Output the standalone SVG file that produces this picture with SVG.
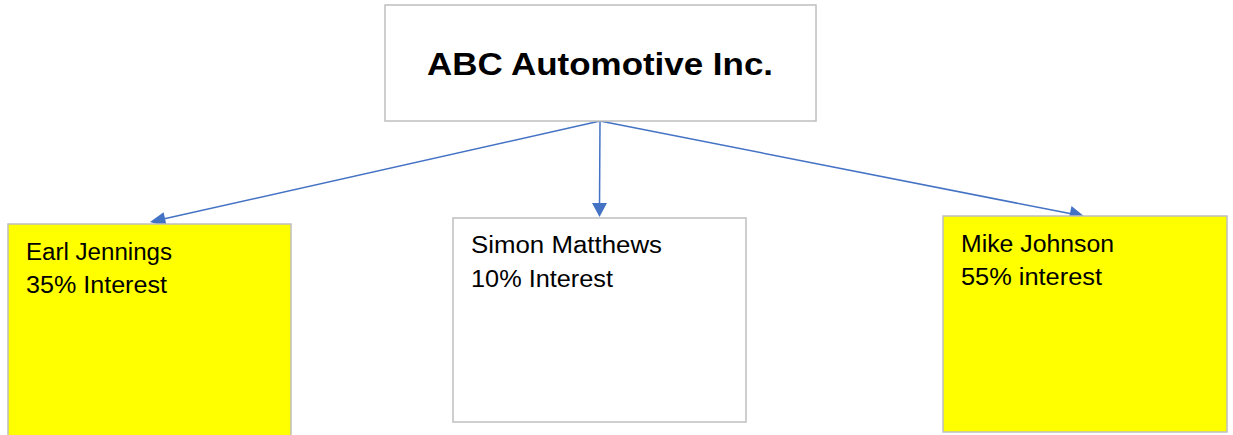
<svg xmlns="http://www.w3.org/2000/svg" width="1233" height="435" viewBox="0 0 1233 435">
<style>
.box{stroke:#bfbfbf;stroke-width:1.5}
.y{fill:#ffff00}
.w{fill:#ffffff}
.t{font-family:"Liberation Sans",Arial,sans-serif;font-size:23px;fill:#000}
.title{font-family:"Liberation Sans",Arial,sans-serif;font-size:32px;font-weight:bold;fill:#000}
.conn{stroke:#4472c4;stroke-width:1.5;fill:none}
.head{fill:#4472c4}
</style>
<rect width="1233" height="435" fill="#ffffff"/>
<g id="connectors">
<line class="conn" x1="600" y1="121" x2="160" y2="219.8"/>
<path class="head" d="M150,222 L163.6,212.3 L166.9,226.9 z"/>
<line class="conn" x1="600" y1="121" x2="599.5" y2="206"/>
<path class="head" d="M599.5,217 L592,203 L607,203 z"/>
<line class="conn" x1="600" y1="121" x2="1075" y2="214.6"/>
<path class="head" d="M1085,217 L1068.5,220.6 L1071.5,205.9 z"/>
</g>
<g id="node-abc">
<rect class="box w" x="385" y="5" width="431" height="116"/>
<text class="title" x="427" y="75" textLength="346" lengthAdjust="spacingAndGlyphs">ABC Automotive Inc.</text>
</g>
<g id="node-earl">
<rect class="box y" x="8" y="224" width="283" height="215"/>
<text class="t" x="26" y="260" textLength="146" lengthAdjust="spacingAndGlyphs">Earl Jennings</text>
<text class="t" x="26" y="293" textLength="141" lengthAdjust="spacingAndGlyphs">35% Interest</text>
</g>
<g id="node-simon">
<rect class="box w" x="453" y="218" width="293" height="204"/>
<text class="t" x="471" y="253" textLength="191" lengthAdjust="spacingAndGlyphs">Simon Matthews</text>
<text class="t" x="471" y="287" textLength="142" lengthAdjust="spacingAndGlyphs">10% Interest</text>
</g>
<g id="node-mike">
<rect class="box y" x="943" y="216" width="284" height="216"/>
<text class="t" x="961" y="252" textLength="153" lengthAdjust="spacingAndGlyphs">Mike Johnson</text>
<text class="t" x="961" y="285" textLength="141" lengthAdjust="spacingAndGlyphs">55% interest</text>
</g>
</svg>
